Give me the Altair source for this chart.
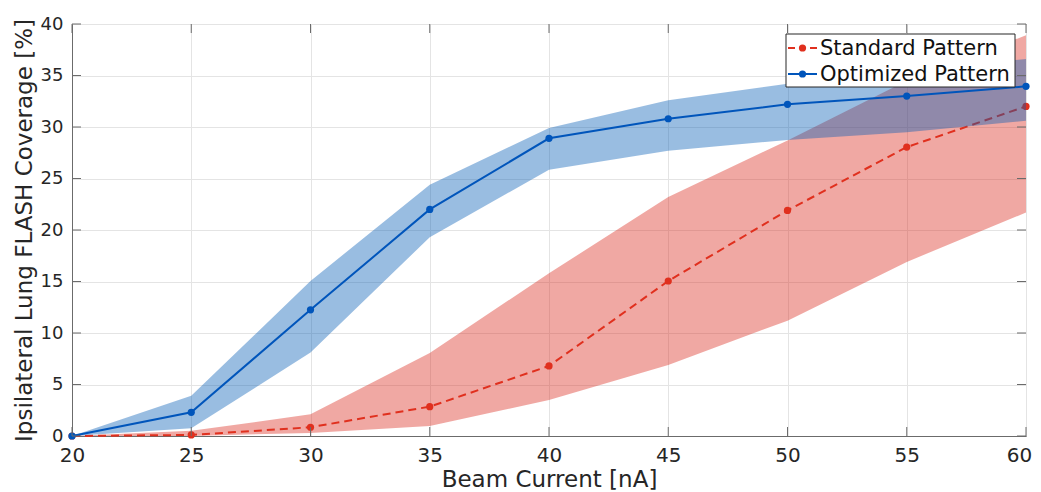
import altair as alt
import pandas as pd

# ---- data ----
currents = [20, 25, 30, 35, 40, 45, 50, 55, 60]

std_mean = [0.0, 0.1, 0.85, 2.85, 6.8, 15.05, 21.9, 28.05, 32.0]
std_low = [0.0, 0.0, 0.3, 0.97, 3.5, 6.9, 11.2, 16.9, 21.7]
std_high = [0.0, 0.5, 2.1, 8.05, 15.8, 23.2, 28.7, 34.5, 38.9]

opt_mean = [0.0, 2.3, 12.25, 22.0, 28.9, 30.8, 32.2, 33.0, 33.95]
opt_low = [0.0, 0.75, 8.1, 19.3, 25.85, 27.7, 28.75, 29.5, 30.6]
opt_high = [0.0, 3.9, 15.05, 24.4, 29.9, 32.6, 34.2, 35.5, 36.6]

x_ticks = [20, 25, 30, 35, 40, 45, 50, 55, 60]
y_ticks = [0, 5, 10, 15, 20, 25, 30, 35, 40]

series_names = ["Standard Pattern", "Optimized Pattern"]

# ---- styles ----
W, H = 954, 412
RED = "#e0301e"
RED_BAND = "#d9261a"
BLUE = "#0055bb"
BLUE_BAND = "#005ab4"
AX = "#6b6b6b"
TXT = "#262626"
FONT = "DejaVu Sans"

xscale = alt.Scale(domain=[20, 60], nice=False, zero=False)
yscale = alt.Scale(domain=[0, 40], nice=False)
xaxis = alt.Axis(values=x_ticks, title="Beam Current [nA]", ticks=False, tickSize=0,
                 labelPadding=9, titlePadding=3, labelFontSize=20, titleFontSize=23,
                 format="d", labelFlush=False,
                 labelOffset={"condition": {"test": "datum.value == 60", "value": -7},
                              "value": 0})
yaxis = alt.Axis(values=y_ticks, title="Ipsilateral Lung FLASH Coverage [%]", ticks=False,
                 tickSize=0, labelPadding=9, titlePadding=4, labelFontSize=18,
                 titleFontSize=23, format="d", labelFlush=False)


def X(field="x"):
    return alt.X(f"{field}:Q", scale=xscale, axis=xaxis)


def Y(field):
    return alt.Y(f"{field}:Q", scale=yscale, axis=yaxis)


df_std = pd.DataFrame({"x": currents, "mean": std_mean, "lo": std_low, "hi": std_high})
df_opt = pd.DataFrame({"x": currents, "mean": opt_mean, "lo": opt_low, "hi": opt_high})

std_band = alt.Chart(df_std).mark_area(color=RED_BAND, opacity=0.4).encode(
    x=X(), y=Y("lo"), y2="hi:Q")
std_line = alt.Chart(df_std).mark_line(
    color=RED, strokeWidth=2, strokeDash=[8, 5],
    point=alt.OverlayMarkDef(filled=True, color=RED, size=52, opacity=1)
).encode(x=X(), y=Y("mean"))

opt_band = alt.Chart(df_opt).mark_area(color=BLUE_BAND, opacity=0.4).encode(
    x=X(), y=Y("lo"), y2="hi:Q")
opt_line = alt.Chart(df_opt).mark_line(
    color=BLUE, strokeWidth=2,
    point=alt.OverlayMarkDef(filled=True, color=BLUE, size=52, opacity=1)
).encode(x=X(), y=Y("mean"))

# inward ticks (MATLAB style)
df_xt = pd.DataFrame({"x": x_ticks})
df_yt = pd.DataFrame({"y": y_ticks})
TL = 9
xt_bottom = alt.Chart(df_xt).mark_rule(color=AX, strokeWidth=1).encode(
    x=X(), y=alt.value(H), y2=alt.value(H - TL))
xt_top = alt.Chart(df_xt).mark_rule(color=AX, strokeWidth=1).encode(
    x=X(), y=alt.value(0), y2=alt.value(TL))
yt_left = alt.Chart(df_yt).mark_rule(color=AX, strokeWidth=1).encode(
    y=Y("y"), x=alt.value(0), x2=alt.value(TL))
yt_right = alt.Chart(df_yt).mark_rule(color=AX, strokeWidth=1).encode(
    y=Y("y"), x=alt.value(W - TL), x2=alt.value(W))

# legend (drawn manually)
LX0, LX1, LY0, LY1 = 714, 943, 10, 63
legend_box = alt.Chart(pd.DataFrame({"k": [0]})).mark_rect(
    fill="white", stroke=TXT, strokeWidth=1).encode(
    x=alt.value(LX0), x2=alt.value(LX1), y=alt.value(LY0), y2=alt.value(LY1))

legend_layers = []
styles = [(RED, [7, 4]), (BLUE, None)]
for i, name in enumerate(series_names):
    color, dash = styles[i]
    ry = 24 + 26 * i
    dfl = pd.DataFrame({"label": [name]})
    rule_kw = dict(color=color, strokeWidth=2)
    if dash:
        rule_kw["strokeDash"] = dash
    legend_layers.append(alt.Chart(dfl).mark_rule(**rule_kw).encode(
        x=alt.value(716), x2=alt.value(745), y=alt.value(ry)))
    legend_layers.append(alt.Chart(dfl).mark_point(
        filled=True, color=color, size=52, opacity=1).encode(
        x=alt.value(730.5), y=alt.value(ry)))
    legend_layers.append(alt.Chart(dfl).mark_text(
        align="left", baseline="middle", fontSize=21, font=FONT, color="#111111").encode(
        x=alt.value(748), y=alt.value(ry + 1), text="label:N"))

chart = alt.layer(
    std_band, std_line, opt_band, opt_line,
    xt_bottom, xt_top, yt_left, yt_right,
    legend_box, *legend_layers
).properties(
    width=W, height=H,
    autosize=alt.AutoSizeParams(type="none"),
    padding={"left": 64, "top": 16, "right": 7, "bottom": 56},
).configure_view(
    stroke=AX, strokeWidth=1
).configure_axis(
    domainColor=AX, domainWidth=1, gridColor="#e4e4e4", gridWidth=1,
    labelColor=TXT, titleColor=TXT, labelFont=FONT, titleFont=FONT,
    titleFontWeight="normal"
)

chart.save("out.html", embed_options={"renderer": "svg", "actions": False})
